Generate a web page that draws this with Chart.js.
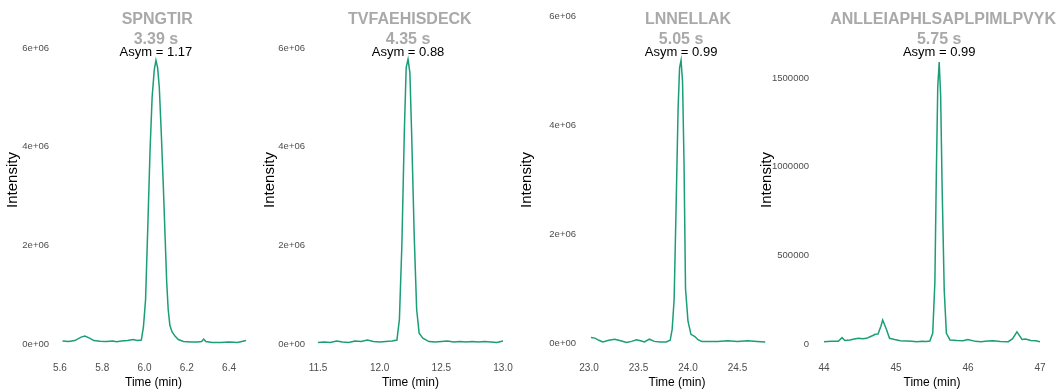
<html>
<head>
<meta charset="utf-8">
<style>
  body { margin: 0; background: #fff; }
  #wrap { position: relative; width: 1057px; height: 392px; overflow: hidden; }
  canvas { position: absolute; top: 0; }
</style>
</head>
<body>
<div id="wrap">
  <canvas id="c1" width="258" height="392" style="left:0px"></canvas>
  <canvas id="c2" width="258" height="392" style="left:258px"></canvas>
  <canvas id="c3" width="262" height="392" style="left:516px"></canvas>
  <canvas id="c4" width="302" height="392" style="left:755px"></canvas>
</div>

<script src="https://cdn.jsdelivr.net/npm/chart.js"></script>
<script>
  // peak labels
  const peptides = ['SPNGTIR', 'TVFAEHISDECK', 'LNNELLAK', 'ANLLEIAPHLSAPLPIMLPVYK'];
  const peakWidths = ['3.39 s', '4.35 s', '5.05 s', '5.75 s'];
  const asymValues = ['1.17', '0.88', '0.99', '0.99'];
  const peakTimes = [6.054, 12.23, 23.93, 45.6];
  const titleTimes = [6.06, 12.245, 24.0, 45.69];

  // chromatograms (time in min, intensity)
  const time1 = [5.612,5.64,5.67,5.70,5.718,5.74,5.76,5.79,5.82,5.85,5.868,5.89,5.92,5.946,5.965,5.985,5.995,6.005,6.015,6.026,6.036,6.046,6.054,6.062,6.07,6.08,6.089,6.098,6.105,6.112,6.12,6.13,6.144,6.16,6.184,6.22,6.25,6.27,6.28,6.29,6.32,6.36,6.40,6.44,6.46,6.48];
  const int1 = [60000,50000,70000,140000,160000,120000,70000,55000,50000,60000,45000,60000,70000,90000,70000,80000,350000,900000,2300000,3900000,5000000,5550000,5750000,5600000,5200000,4200000,3200000,2100000,1250000,700000,380000,250000,160000,90000,50000,40000,40000,50000,100000,50000,30000,30000,40000,30000,50000,70000];

  const time2 = [11.5,11.55,11.6,11.65,11.7,11.75,11.8,11.85,11.9,11.95,12.0,12.05,12.1,12.14,12.16,12.18,12.2,12.215,12.23,12.245,12.26,12.28,12.3,12.32,12.35,12.4,12.45,12.5,12.55,12.6,12.65,12.7,12.75,12.8,12.85,12.9,12.95,13.0];
  const int2 = [30000,40000,30000,60000,40000,30000,60000,50000,80000,50000,40000,50000,60000,80000,500000,2000000,4300000,5600000,5770000,5500000,4200000,2200000,700000,220000,120000,50000,40000,50000,60000,40000,50000,40000,50000,40000,50000,40000,30000,60000];

  const time3 = [23.02,23.06,23.1,23.14,23.2,23.26,23.32,23.38,23.43,23.48,23.52,23.56,23.61,23.66,23.72,23.78,23.82,23.84,23.86,23.88,23.9,23.915,23.93,23.945,23.96,23.975,24.0,24.03,24.07,24.1,24.14,24.2,24.3,24.4,24.5,24.6,24.7,24.78];
  const int3 = [100000,90000,50000,20000,50000,70000,40000,10000,30000,60000,40000,20000,70000,30000,20000,20000,50000,250000,800000,2500000,4300000,5050000,5190000,4800000,3300000,1000000,400000,160000,120000,60000,30000,30000,30000,40000,30000,40000,30000,20000];

  const time4 = [44.0,44.1,44.2,44.25,44.29,44.36,44.42,44.48,44.54,44.59,44.64,44.68,44.71,44.75,44.79,44.815,44.84,44.87,44.91,44.98,45.06,45.15,45.22,45.29,45.36,45.42,45.47,45.51,45.54,45.56,45.58,45.6,45.62,45.64,45.67,45.7,45.75,45.85,45.93,46.0,46.1,46.18,46.27,46.35,46.45,46.56,46.62,46.68,46.72,46.75,46.8,46.87,46.94,47.0];
  const int4 = [13000,15000,15000,36000,20000,23000,28000,32000,30000,32000,41000,48000,55000,56000,100000,135000,110000,79000,32000,25000,19000,17000,15000,13000,15000,14000,17000,60000,350000,950000,1450000,1590000,1400000,900000,300000,60000,23000,20000,19000,25000,15000,13000,17000,19000,14000,13000,30000,69000,45000,26000,28000,20000,18000,13000];

  // tick values and labels
  const xTicks1 = [5.6, 5.8, 6.0, 6.2, 6.4], xLabels1 = ['5.6', '5.8', '6.0', '6.2', '6.4'];
  const xTicks2 = [11.5, 12.0, 12.5, 13.0], xLabels2 = ['11.5', '12.0', '12.5', '13.0'];
  const xTicks3 = [23.0, 23.5, 24.0, 24.5], xLabels3 = ['23.0', '23.5', '24.0', '24.5'];
  const xTicks4 = [44, 45, 46, 47], xLabels4 = ['44', '45', '46', '47'];
  const yTicksE = [0, 2e6, 4e6, 6e6], yLabelsE = ['0e+00', '2e+06', '4e+06', '6e+06'];
  const yTicks4 = [0, 5e5, 1e6, 1.5e6], yLabels4 = ['0', '500000', '1000000', '1500000'];

  Chart.defaults.font.family = '"Liberation Sans", Arial, sans-serif';

  // panel layout
  const layouts = [
    { xMin: 5.567, xMax: 6.518, yMin: -0.162e6, yMax: 6.81e6, yWidth: 53, right: 4, titlePad: 3.5 },
    { xMin: 11.427, xMax: 13.073, yMin: -0.162e6, yMax: 6.81e6, yWidth: 51, right: 4, titlePad: 3 },
    { xMin: 22.909, xMax: 24.869, yMin: -0.165e6, yMax: 6.15e6, yWidth: 64, right: 4, titlePad: 2 },
    { xMin: 43.847, xMax: 47.153, yMin: -0.045e6, yMax: 1.895e6, yWidth: 58, right: 6, titlePad: 3 }
  ];

  function labelPlugin(i) {
    return {
      id: 'peakLabels',
      afterDatasetsDraw(chart) {
        const ctx = chart.ctx;
        const xs = chart.scales.x;
        ctx.save();
        ctx.textAlign = 'center';
        ctx.textBaseline = 'alphabetic';
        ctx.fillStyle = '#a9a9a9';
        ctx.font = 'bold 16px "Liberation Sans", Arial, sans-serif';
        const w = ctx.measureText(peptides[i]).width;
        let tx = xs.getPixelForValue(titleTimes[i]);
        tx = Math.min(tx, chart.width - w / 2 - 1);
        ctx.fillText(peptides[i], tx, 24);
        const px = xs.getPixelForValue(peakTimes[i]);
        ctx.fillText(peakWidths[i], px, 43.5);
        ctx.fillStyle = '#000';
        ctx.font = '13px "Liberation Sans", Arial, sans-serif';
        ctx.fillText('Asym = ' + asymValues[i], px, 56);
        ctx.restore();
      }
    };
  }

  function makePanel(i, t, v, xTicks, xLabels, yTicks, yLabels) {
    const lay = layouts[i];
    new Chart(document.getElementById('c' + (i + 1)), {
      type: 'line',
      data: {
        datasets: [{
          data: t.map((x, k) => ({ x: x, y: v[k] })),
          borderColor: '#1b9e77',
          borderWidth: 1.5,
          pointRadius: 0,
          tension: 0,
          fill: false
        }]
      },
      options: {
        responsive: false,
        animation: false,
        layout: { padding: { left: 0, right: lay.right, top: 8, bottom: 0 }, autoPadding: false },
        plugins: { legend: { display: false }, tooltip: { enabled: false } },
        scales: {
          x: {
            type: 'linear', min: lay.xMin, max: lay.xMax,
            grid: { display: false, drawTicks: false }, border: { display: false },
            afterBuildTicks: s => { s.ticks = xTicks.map(x => ({ value: x })); },
            afterFit: s => { s.height = 40; s.paddingLeft = 0; s.paddingRight = 0; },
            ticks: { autoSkip: false, maxRotation: 0, padding: 10, color: '#4d4d4d', font: { size: 10 },
                     callback: (val, k) => xLabels[k] },
            title: { display: true, text: 'Time (min)', color: '#000', font: { size: 12 }, padding: { top: 0, bottom: 2 } }
          },
          y: {
            min: lay.yMin, max: lay.yMax,
            grid: { display: false, drawTicks: false }, border: { display: false },
            afterBuildTicks: s => { s.ticks = yTicks.map(y => ({ value: y })); },
            afterFit: s => { s.width = lay.yWidth; s.paddingTop = 0; s.paddingBottom = 0; },
            ticks: { padding: 4, color: '#4d4d4d', font: { size: 9.5 },
                     callback: (val, k) => yLabels[k] },
            title: { display: true, text: 'Intensity', color: '#000', font: { size: 15 }, padding: { top: lay.titlePad, bottom: 0 } }
          }
        }
      },
      plugins: [labelPlugin(i)]
    });
  }

  makePanel(0, time1, int1, xTicks1, xLabels1, yTicksE, yLabelsE);
  makePanel(1, time2, int2, xTicks2, xLabels2, yTicksE, yLabelsE);
  makePanel(2, time3, int3, xTicks3, xLabels3, yTicksE, yLabelsE);
  makePanel(3, time4, int4, xTicks4, xLabels4, yTicks4, yLabels4);
</script>
</body>
</html>
